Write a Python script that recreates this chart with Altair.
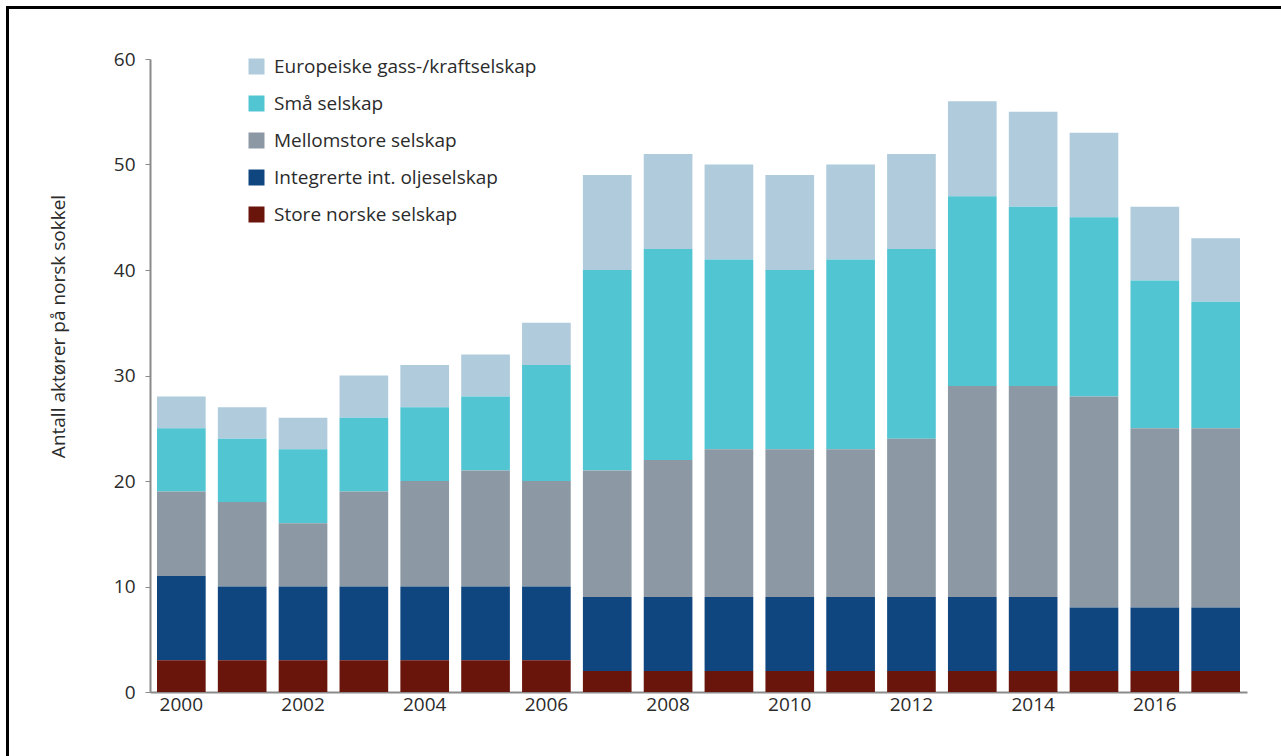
import altair as alt
import pandas as pd

years = list(range(2000, 2018))
series = ["Europeiske gass-/kraftselskap", "Små selskap", "Mellomstore selskap",
          "Integrerte int. oljeselskap", "Store norske selskap"]
colors = ["#AFCBDC", "#52C5D3", "#8C99A5", "#0F4680", "#6A150C"]

store = [3, 3, 3, 3, 3, 3, 3, 2, 2, 2, 2, 2, 2, 2, 2, 2, 2, 2]
integrerte = [8, 7, 7, 7, 7, 7, 7, 7, 7, 7, 7, 7, 7, 7, 7, 6, 6, 6]
mellom = [8, 8, 6, 9, 10, 11, 10, 12, 13, 14, 14, 14, 15, 20, 20, 20, 17, 17]
smaa = [6, 6, 7, 7, 7, 7, 11, 19, 20, 18, 17, 18, 18, 18, 17, 17, 14, 12]
euro = [3, 3, 3, 4, 4, 4, 4, 9, 9, 9, 9, 9, 9, 9, 9, 8, 7, 6]

values = [euro, smaa, mellom, integrerte, store]
rows = []
for si, (name, vals) in enumerate(zip(series, values)):
    for y, v in zip(years, vals):
        rows.append({"year": y, "series": name, "value": v, "order": 4 - si})
df = pd.DataFrame(rows)

FONT = "Open Sans"
FS = 19
W, H = 1097, 633
PL, PT = 150, 59

bars = alt.Chart(df).mark_bar().encode(
    x=alt.X("year:O", title=None,
            scale=alt.Scale(paddingInner=0.2, paddingOuter=0.115),
            axis=alt.Axis(values=list(range(2000, 2018, 2)), labelAngle=0, ticks=False,
                          domainColor="#8a8a8a", domainWidth=2, labelFontSize=FS,
                          labelColor="#2b2b2b", labelFont=FONT, labelPadding=3)),
    y=alt.Y("value:Q", stack="zero", title="Antall aktører på norsk sokkel",
            scale=alt.Scale(domain=[0, 60], nice=False),
            axis=alt.Axis(values=[0, 10, 20, 30, 40, 50, 60], grid=False, tickSize=5,
                          tickColor="#8a8a8a", domainColor="#8a8a8a", domainWidth=2,
                          labelFontSize=FS, labelColor="#2b2b2b", labelFont=FONT,
                          labelPadding=10, titleFontSize=FS, titleFont=FONT,
                          titleFontWeight="normal", titleColor="#2b2b2b",
                          titleX=-92, titleY=267, titleAngle=270,
                          titleAlign="center", titleBaseline="middle")),
    color=alt.Color("series:N", scale=alt.Scale(domain=series, range=colors),
                    legend=alt.Legend(title=None, orient="none", legendX=97, legendY=-2,
                                      symbolType="square", symbolSize=256,
                                      symbolStrokeWidth=0, symbolOpacity=1,
                                      labelFontSize=FS, labelFont=FONT, labelLimit=0,
                                      labelColor="#2b2b2b", rowPadding=17,
                                      labelOffset=8)),
    order=alt.Order("order:Q", sort="ascending"),
)

border = alt.Chart(pd.DataFrame({"a": [0]})).mark_rect(
    filled=False, stroke="black", strokeWidth=3
).encode(
    x=alt.value(7.5 - PL), x2=alt.value(1300 - PL),
    y=alt.value(7.5 - PT), y2=alt.value(780 - PT),
)

chart = alt.layer(bars, border).properties(
    width=W, height=H,
    autosize=alt.AutoSizeParams(type="none"),
    padding={"left": PL, "top": PT, "right": 1281 - PL - W, "bottom": 756 - PT - H},
).configure_view(stroke=None)

chart.save("out.html", embed_options={"renderer": "svg", "actions": False})
